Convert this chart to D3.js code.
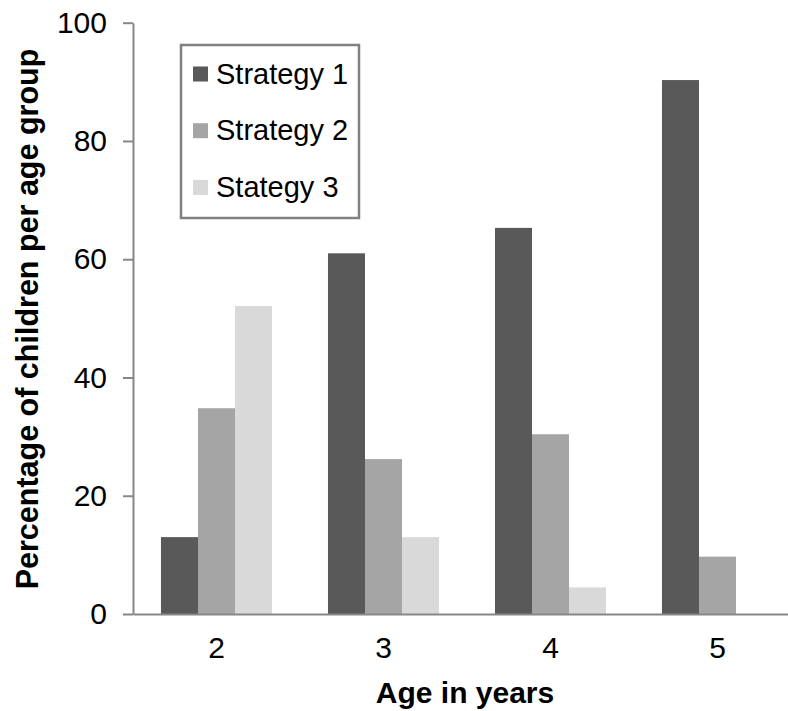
<!DOCTYPE html>
<html>
<head>
<meta charset="utf-8">
<script src="https://cdn.jsdelivr.net/npm/d3@7"></script>
<style>
  body { margin: 0; background: #fff; }
  svg { display: block; font-family: "Liberation Sans", Arial, sans-serif; }
</style>
</head>
<body>
<svg id="chart"></svg>
<script>
// data
const ages = ["2", "3", "4", "5"];
const seriesNames = ["Strategy 1", "Strategy 2", "Stategy 3"];
const strategy1 = [13, 61, 65.3, 90.3];
const strategy2 = [34.8, 26.2, 30.4, 9.7];
const strategy3 = [52.1, 13, 4.5, 0];
const yTicks = [0, 20, 40, 60, 80, 100];

const width = 788, height = 711;
const colors = ["#595959", "#a5a5a5", "#d9d9d9"];
const values = [strategy1, strategy2, strategy3];

const svg = d3.select("#chart")
    .attr("width", width)
    .attr("height", height);

const plotLeft = 133, plotRight = 801, plotTop = 22.7, plotBottom = 614;

const x0 = d3.scaleBand()
    .domain(ages)
    .range([plotLeft, plotRight])
    .paddingInner(0.335)
    .paddingOuter(0.1675);

const x1 = d3.scaleBand()
    .domain(seriesNames)
    .range([0, x0.bandwidth()]);

const y = d3.scaleLinear()
    .domain([0, 100])
    .range([plotBottom, plotTop]);

// bars
const rows = ages.map((a, i) => ({
    age: a,
    vals: seriesNames.map((s, j) => ({ name: s, v: values[j][i], c: colors[j] }))
}));

svg.append("g")
    .selectAll("g")
    .data(rows)
    .join("g")
    .attr("transform", (d) => "translate(" + x0(d.age) + ",0)")
    .selectAll("rect")
    .data((d) => d.vals.filter((e) => e.v > 0))
    .join("rect")
    .attr("x", (d) => x1(d.name))
    .attr("width", x1.bandwidth())
    .attr("y", (d) => y(d.v))
    .attr("height", (d) => y(0) - y(d.v))
    .attr("fill", (d) => d.c);

// y axis
const yAxis = svg.append("g")
    .attr("transform", "translate(" + plotLeft + ",0)")
    .call(d3.axisLeft(y).tickValues(yTicks).tickSize(10).tickPadding(16).tickSizeOuter(0));
yAxis.select(".domain").attr("stroke", "#878787").attr("stroke-width", 2);
yAxis.selectAll(".tick line").attr("stroke", "#878787").attr("stroke-width", 2);
yAxis.selectAll(".tick text")
    .attr("font-size", 30)
    .attr("fill", "#000")
    .style("font-family", "Liberation Sans, Arial, sans-serif");

// x axis
const xAxis = svg.append("g")
    .attr("transform", "translate(0," + plotBottom + ")")
    .call(d3.axisBottom(x0).tickSize(0).tickPadding(23).tickSizeOuter(0));
xAxis.select(".domain").attr("stroke", "#878787").attr("stroke-width", 2);
xAxis.selectAll(".tick text")
    .attr("font-size", 30)
    .attr("fill", "#000")
    .style("font-family", "Liberation Sans, Arial, sans-serif");

// axis titles
svg.append("text")
    .attr("x", 465)
    .attr("y", 703)
    .attr("text-anchor", "middle")
    .attr("font-size", 30)
    .attr("font-weight", "bold")
    .text("Age in years");

svg.append("text")
    .attr("transform", "translate(38,319) rotate(-90)")
    .attr("text-anchor", "middle")
    .attr("font-size", 30.5)
    .attr("font-weight", "bold")
    .text("Percentage of children per age group");

// legend
const legend = svg.append("g");
legend.append("rect")
    .attr("x", 181)
    .attr("y", 45)
    .attr("width", 178)
    .attr("height", 173)
    .attr("fill", "#fff")
    .attr("stroke", "#808080")
    .attr("stroke-width", 2.5);

const item = legend.selectAll("g.item")
    .data(seriesNames)
    .join("g")
    .attr("class", "item")
    .attr("transform", (d, i) => "translate(0," + (i * 56.7) + ")");

item.append("rect")
    .attr("x", 193)
    .attr("y", 66.5)
    .attr("width", 15)
    .attr("height", 15)
    .attr("fill", (d, i) => colors[i]);

item.append("text")
    .attr("x", 216)
    .attr("y", 83.5)
    .attr("font-size", 29)
    .attr("fill", "#000")
    .text((d) => d);
</script>
</body>
</html>
